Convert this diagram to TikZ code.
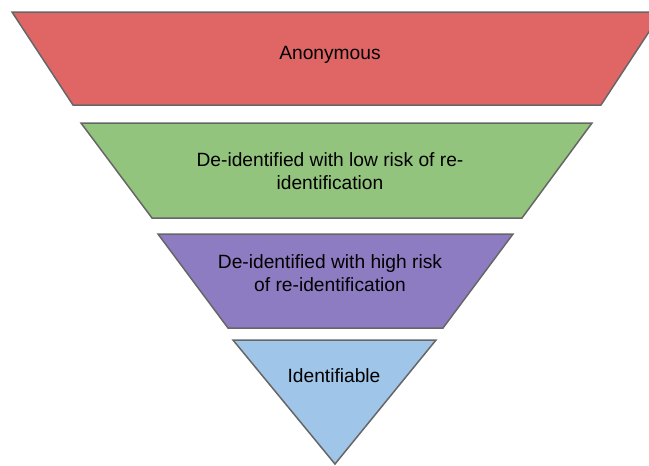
\documentclass[tikz,border=0pt]{standalone}
\usepackage{fontspec}
\setmainfont{Liberation Sans}
\definecolor{redfill}{HTML}{E06666}
\definecolor{greenfill}{HTML}{93C47D}
\definecolor{purplefill}{HTML}{8E7CC3}
\definecolor{bluefill}{HTML}{9FC5E8}
\definecolor{edgegray}{HTML}{666666}
\tikzset{
  layer/.style={draw=edgegray, line width=1.5pt, line join=miter},
  lbl/.style={align=center, text=black, font=\fontsize{19.2}{23}\selectfont, inner sep=0pt}
}
\begin{document}
\begin{tikzpicture}[x=1pt,y=-1pt]
\useasboundingbox (0,0) rectangle (649,466);
\fill[white] (0,0) rectangle (649,466);
\clip (0,0) rectangle (649,466);
\draw[layer, fill=redfill] (12,12) -- (662,12) -- (601,105) -- (73,105) -- cycle;
\draw[layer, fill=greenfill] (81,123) -- (592,123) -- (522,218) -- (152,218) -- cycle;
\draw[layer, fill=purplefill] (158,234) -- (513,234) -- (443,328) -- (228,328) -- cycle;
\draw[layer, fill=bluefill] (233,340) -- (436,340) -- (335,464) -- cycle;
\node[lbl] (anon) at (330,55) {Anonymous};
\node[lbl] (low) at (330,171) {De-identified with low risk of re-\\identification};
\node[lbl] (high) at (330,273) {De-identified with high risk\\of re-identification};
\node[lbl] (ident) at (334,376) {Identifiable};
\end{tikzpicture}
\end{document}
